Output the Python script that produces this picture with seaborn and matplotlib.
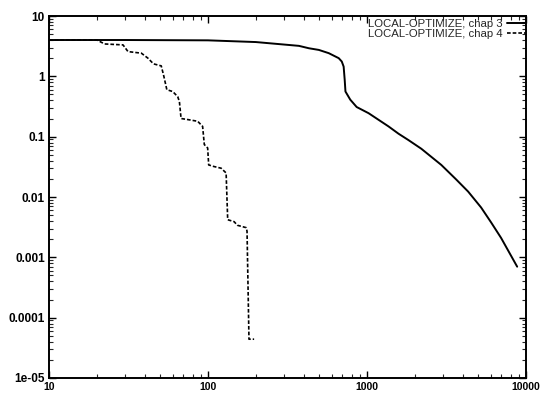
import matplotlib
matplotlib.use("Agg")
import matplotlib.pyplot as plt
import seaborn as sns
import pandas as pd
import numpy as np
from matplotlib.ticker import LogLocator, NullFormatter

# ---- data ----
chap3_x = [10, 30, 100, 200, 373, 431, 498, 575, 664, 694, 713, 724, 732, 785,
           861, 1023, 1365, 1578, 1820, 2197, 2933, 3640, 4326, 5220, 6030, 6970, 8800]
chap3_y = [4.0, 4.0, 3.95, 3.7, 3.2, 2.92, 2.74, 2.42, 2.0, 1.76, 1.45, 0.875, 0.56, 0.41,
           0.31, 0.245, 0.148, 0.112, 0.088, 0.063, 0.034, 0.0195, 0.0123, 0.0067, 0.0038, 0.0021, 0.0007]

chap4_x = [10, 20, 22.4, 29.2, 31.4, 38.1, 41.9, 45.4, 50.8, 52.5, 55.1, 60.0, 64.5, 66.1,
           67.7, 76.4, 86.1, 92.5, 94.8, 99.5, 101, 109, 121, 130, 133, 146, 153, 174,
           176, 181, 195]
chap4_y = [4.0, 4.0, 3.44, 3.32, 2.57, 2.42, 2.0, 1.61, 1.49, 1.06, 0.60, 0.56, 0.46, 0.38,
           0.20, 0.19, 0.18, 0.148, 0.074, 0.065, 0.034, 0.032, 0.030, 0.025, 0.0042, 0.0039,
           0.0034, 0.0031, 0.0027, 4.4e-5, 4.4e-5]

series_names = ["LOCAL-OPTIMIZE, chap 3", "LOCAL-OPTIMIZE, chap 4"]
x_ticks = [10, 100, 1000, 10000]
x_tick_labels = ["10", "100", "1000", "10000"]
y_ticks = [1e-5, 1e-4, 1e-3, 1e-2, 1e-1, 1, 10]
y_tick_labels = ["1e-05", "0.0001", "0.001", "0.01", "0.1", "1", "10"]

df = pd.concat([
    pd.DataFrame({"x": chap3_x, "y": chap3_y, "series": series_names[0]}),
    pd.DataFrame({"x": chap4_x, "y": chap4_y, "series": series_names[1]}),
], ignore_index=True)

sns.set_style("ticks")
plt.rcParams["font.family"] = ["Liberation Sans", "DejaVu Sans"]

fig = plt.figure(figsize=(5.42, 3.94), dpi=100)
ax = fig.add_axes([49/542, 1-378/394, (526-49)/542, (378-16)/394])

sns.lineplot(data=df, x="x", y="y", style="series", color="black",
             dashes={series_names[0]: "", series_names[1]: (2.2, 1.2)},
             sort=False, estimator=None, ax=ax, linewidth=1.4)
for ln in ax.lines:
    if ln.get_linestyle() != "-":
        ln.set_linewidth(1.2)

ax.set_xscale("log")
ax.set_yscale("log")
ax.set_xlim(10, 10000)
ax.set_ylim(1e-5, 10)
ax.set_xticks(x_ticks)
ax.set_xticklabels(x_tick_labels)
ax.set_yticks(y_ticks)
ax.set_yticklabels(y_tick_labels)
ax.xaxis.set_minor_locator(LogLocator(base=10, subs=np.arange(2, 10)))
ax.yaxis.set_minor_locator(LogLocator(base=10, subs=np.arange(2, 10)))
ax.xaxis.set_minor_formatter(NullFormatter())
ax.yaxis.set_minor_formatter(NullFormatter())
ax.set_xlabel("")
ax.set_ylabel("")

ax.tick_params(which="major", direction="in", length=5, width=1.0,
               top=True, right=True, pad=3, colors="black")
ax.tick_params(axis="y", which="major", labelsize=8.5)
ax.tick_params(axis="x", which="major", labelsize=7.5, pad=3)
ax.tick_params(which="minor", direction="in", length=3, width=0.8,
               top=True, right=True)
for lab in ax.get_xticklabels() + ax.get_yticklabels():
    lab.set_fontweight("bold")
for sp in ax.spines.values():
    sp.set_linewidth(1.4)
    sp.set_color("black")

handles, labels = ax.get_legend_handles_labels()
ax.legend(handles=handles, labels=labels, loc="upper right",
          bbox_to_anchor=(525/542, 1-19/394), bbox_transform=fig.transFigure,
          frameon=False, markerfirst=False, fontsize=8.2, handlelength=1.6,
          handletextpad=0.35, labelspacing=0.0, borderpad=0, borderaxespad=0)

fig.savefig("out.png", dpi=100)
